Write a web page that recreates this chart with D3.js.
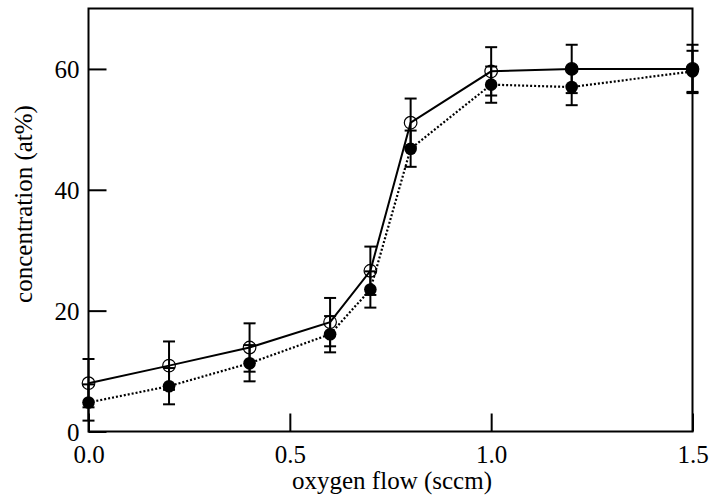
<!DOCTYPE html>
<html>
<head>
<meta charset="utf-8">
<script src="https://cdn.jsdelivr.net/npm/d3@7"></script>
<style>
  body { margin: 0; background: #fff; }
</style>
</head>
<body>
<svg id="plot"></svg>
<script>
// data
const flow = [0.0, 0.2, 0.4, 0.6, 0.7, 0.8, 1.0, 1.2, 1.5];
const openConc = [8.0, 10.9, 13.9, 18.1, 26.6, 51.1, 59.6, 60.0, 60.0];
const openErr = [4, 4, 4, 4, 4, 4, 4, 4, 4];
const filledConc = [4.8, 7.5, 11.3, 16.1, 23.5, 46.8, 57.4, 57.0, 59.6];
const filledErr = [3, 3, 3, 3, 3, 3, 3, 3, 3.4];
const xTicks = [0.0, 0.5, 1.0, 1.5];
const yTicks = [0, 20, 40, 60];

const serif = "'Liberation Serif', 'DejaVu Serif', serif";

let width = 710;
let height = 499;
let margin = { top: 8.5, bottom: 67.5, left: 88.5, right: 17.5 };

let svg = d3.select('#plot')
    .attr('width', width)
    .attr('height', height);

let xScale = d3.scaleLinear()
    .domain([0, 1.5])
    .range([margin.left, width - margin.right]);

let yScale = d3.scaleLinear()
    .domain([0, 70])
    .range([height - margin.bottom, margin.top]);

// frame
svg.append('rect')
    .attr('x', margin.left)
    .attr('y', margin.top)
    .attr('width', width - margin.left - margin.right)
    .attr('height', height - margin.top - margin.bottom)
    .attr('fill', 'none')
    .attr('stroke', '#000')
    .attr('stroke-width', 2);

// axes, ticks pointing inward
let xAxis = svg.append('g')
    .attr('transform', `translate(0, ${height - margin.bottom})`)
    .call(d3.axisTop(xScale).tickValues(xTicks).tickFormat(d3.format('.1f')).tickSize(18).tickSizeOuter(0));
xAxis.select('.domain').remove();
xAxis.selectAll('line').attr('stroke-width', 2);
xAxis.selectAll('text')
    .attr('y', 31)
    .attr('dy', 0)
    .style('font-family', serif)
    .style('font-size', '25px');

let yAxis = svg.append('g')
    .attr('transform', `translate(${margin.left}, 0)`)
    .call(d3.axisRight(yScale).tickValues(yTicks).tickSize(18).tickSizeOuter(0));
yAxis.select('.domain').remove();
yAxis.selectAll('line').attr('stroke-width', 2);
yAxis.selectAll('text')
    .attr('x', -9)
    .attr('dy', '0.34em')
    .style('text-anchor', 'end')
    .style('font-family', serif)
    .style('font-size', '25px');

// axis titles
svg.append('text')
    .attr('x', 392)
    .attr('y', 489)
    .style('text-anchor', 'middle')
    .style('font-family', serif)
    .style('font-size', '25px')
    .text('oxygen flow (sccm)');

svg.append('text')
    .attr('transform', 'translate(32, 204) rotate(-90)')
    .style('text-anchor', 'middle')
    .style('font-family', serif)
    .style('font-size', '25px')
    .text('concentration (at%)');

let openData = flow.map((x, i) => ({ x: x, y: openConc[i], e: openErr[i] }));
let filledData = flow.map((x, i) => ({ x: x, y: filledConc[i], e: filledErr[i] }));

let line = d3.line().x(d => xScale(d.x)).y(d => yScale(d.y));

svg.append('path')
    .datum(filledData)
    .attr('d', line)
    .attr('fill', 'none')
    .attr('stroke', '#000')
    .attr('stroke-width', 2.2)
    .attr('stroke-dasharray', '2,2');

svg.append('path')
    .datum(openData)
    .attr('d', line)
    .attr('fill', 'none')
    .attr('stroke', '#000')
    .attr('stroke-width', 2);

function errorBars(data) {
    let g = svg.append('g')
        .attr('stroke', '#000')
        .attr('stroke-width', 2);
    g.selectAll('.bar')
        .data(data)
        .enter()
        .append('line')
        .attr('x1', d => xScale(d.x))
        .attr('x2', d => xScale(d.x))
        .attr('y1', d => yScale(d.y - d.e))
        .attr('y2', d => yScale(d.y + d.e));
    g.selectAll('.capTop')
        .data(data)
        .enter()
        .append('line')
        .attr('x1', d => xScale(d.x) - 6)
        .attr('x2', d => xScale(d.x) + 6)
        .attr('y1', d => yScale(d.y + d.e))
        .attr('y2', d => yScale(d.y + d.e));
    g.selectAll('.capBottom')
        .data(data)
        .enter()
        .append('line')
        .attr('x1', d => xScale(d.x) - 6)
        .attr('x2', d => xScale(d.x) + 6)
        .attr('y1', d => yScale(d.y - d.e))
        .attr('y2', d => yScale(d.y - d.e));
}

errorBars(openData);
errorBars(filledData);

// filled markers
svg.selectAll('.filled')
    .data(filledData)
    .enter()
    .append('circle')
    .attr('cx', d => xScale(d.x))
    .attr('cy', d => yScale(d.y))
    .attr('r', 6.3)
    .attr('fill', '#000');

// open markers (the last two look filled in the original)
svg.selectAll('.open')
    .data(openData)
    .enter()
    .append('circle')
    .attr('cx', d => xScale(d.x))
    .attr('cy', d => yScale(d.y))
    .attr('r', 6.3)
    .attr('fill', d => d.x >= 1.2 ? '#000' : 'none')
    .attr('stroke', '#000')
    .attr('stroke-width', 1.2);
</script>
</body>
</html>
